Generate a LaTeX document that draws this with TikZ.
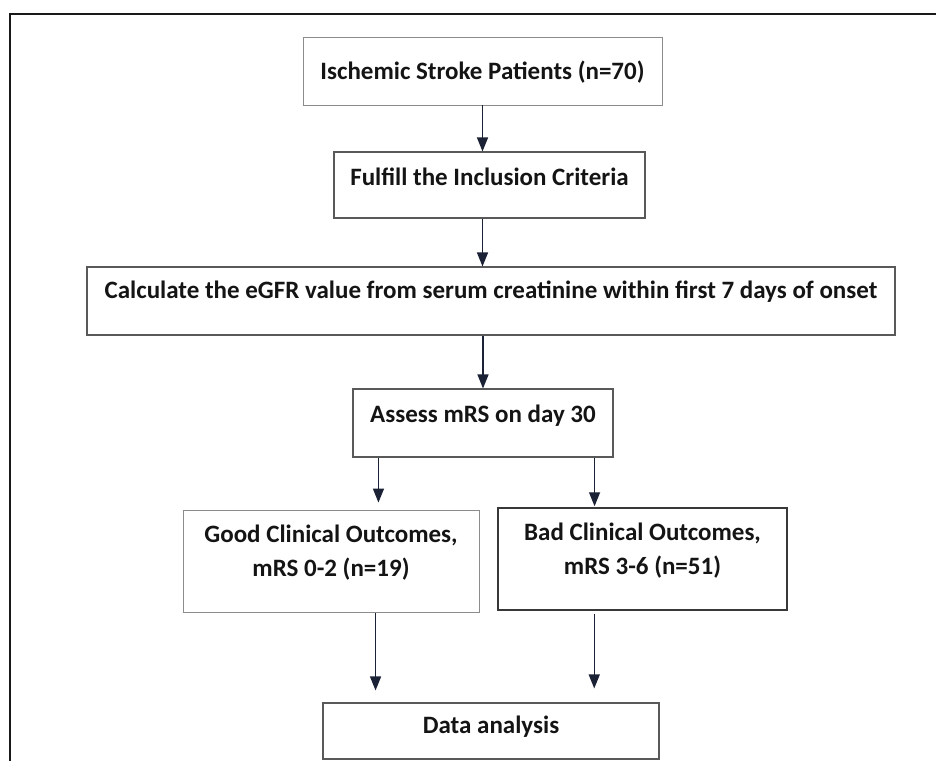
\documentclass[tikz,border=0pt]{standalone}
\usepackage{fontspec}
\setmainfont{Carlito}
\usetikzlibrary{arrows.meta,calc}
\definecolor{txtc}{HTML}{141414}
\definecolor{arrc}{HTML}{1C2235}
\begin{document}
\begin{tikzpicture}[x=1pt,y=-1pt,
  box/.style={draw=black!65, line width=1.1pt, rectangle, inner sep=0pt},
  lightbox/.style={box, draw=black!45, line width=0.9pt},
  darkbox/.style={box, draw=black!78, line width=1.5pt},
  lbl/.style={font=\fontsize{25}{34}\selectfont\bfseries, text=txtc, align=center, inner sep=0pt},
  arr/.style={draw=arrc, line width=1.4pt, -{Triangle[width=11pt,length=14pt]}},
  frame/.style={draw=black!90, line width=2.3pt}
]
\useasboundingbox (0,0) rectangle (936,760);
\draw[frame] (10,762) -- (10,14) -- (938,14);

\node[lightbox, minimum width=359, minimum height=68] (b1) at (482.5,71) {};
\node[lbl] (t1) at (482.5,72) {Ischemic Stroke Patients (n=70)};

\node[box, minimum width=311, minimum height=66] (b2) at (489.5,185) {};
\node[lbl] (t2) at (489.5,177) {Fulfill the Inclusion Criteria};

\node[box, minimum width=808, minimum height=68] (b3) at (491,301) {};
\node[lbl] (t3) at (491,292) {Calculate the eGFR value from serum creatinine within first 7 days of onset};

\node[box, minimum width=260, minimum height=68] (b4) at (483,423) {};
\node[lbl] (t4) at (483,416) {Assess mRS on day 30};

\node[lightbox, minimum width=296, minimum height=102] (b5) at (331,561) {};
\node[lbl] (t5) at (331,553) {Good Clinical Outcomes,\\mRS 0-2 (n=19)};

\node[darkbox, minimum width=289, minimum height=102] (b6) at (642.5,559) {};
\node[lbl] (t6) at (642.5,551) {Bad Clinical Outcomes,\\mRS 3-6 (n=51)};

\node[box, minimum width=336, minimum height=56] (b7) at (491,731) {};
\node[lbl] (t7) at (491,727) {Data analysis};

\coordinate (c1) at ($(b4.south west)+(26,0)$);
\coordinate (c2) at ($(b4.south east)+(-19,0)$);
\coordinate (c3) at ($(b5.south west)+(193,1)$);
\coordinate (c4) at ($(b6.south west)+(97,3)$);

\draw[arr] (b1.south) -- (b1.south |- b2.north);
\draw[arr] (b2.south -| b1.south) -- (b3.north -| b1.south);
\draw[arr] (b4.north |- b3.south) -- (b4.north);
\draw[arr, shorten >=7pt] (c1) -- (c1 |- b5.north);
\draw[arr, shorten >=1pt] (c2) -- (c2 |- b6.north);
\draw[arr, shorten >=12pt] (c3) -- (c3 |- b7.north);
\draw[arr, shorten >=14pt] (c4) -- (c4 |- b7.north);
\end{tikzpicture}
\end{document}
